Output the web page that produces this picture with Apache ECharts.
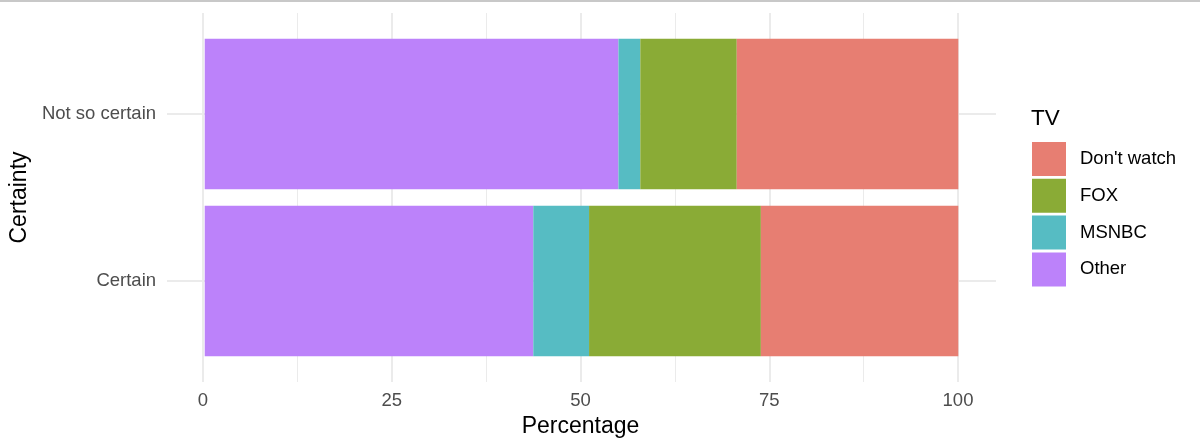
<!DOCTYPE html>
<html>
<head>
<meta charset="utf-8">
<script src="https://cdn.jsdelivr.net/npm/echarts@6/dist/echarts.min.js"></script>
<style>
html,body{margin:0;padding:0;background:#fff;}
#chart{position:absolute;left:0;top:0;width:1200px;height:448px;}
#topline{position:absolute;left:0;top:0;width:1200px;height:2px;background:#c8c8c8;z-index:5;}
</style>
</head>
<body>
<div id="chart"></div>
<div id="topline"></div>
<script>
const categories = ['Certain', 'Not so certain'];
const legendOrder = ["Don't watch", 'FOX', 'MSNBC', 'Other'];
const otherVals = [43.6, 54.9];
const msnbcVals = [7.4, 2.9];
const foxVals = [22.8, 12.8];
const dontWatchVals = [26.2, 29.4];
const xTicks = [0, 25, 50, 75, 100];

const colors = {
  "Don't watch": '#E77E72',
  'FOX': '#8AAB36',
  'MSNBC': '#56BCC3',
  'Other': '#BC82FA'
};
const FONT = 'Liberation Sans, Arial, sans-serif';

const chart = echarts.init(document.getElementById('chart'), null, {renderer: 'canvas'});

function barSeries(name, data, extra) {
  return Object.assign({
    name: name,
    type: 'bar',
    stack: 'total',
    xAxisIndex: 1,
    yAxisIndex: 1,
    barWidth: '90%',
    data: data,
    itemStyle: {color: colors[name]},
    emphasis: {disabled: true},
    z: 2
  }, extra || {});
}

const option = {
  animation: false,
  backgroundColor: '#fff',
  textStyle: {fontFamily: FONT},
  title: {
    text: 'TV',
    left: 1031,
    top: 107,
    padding: 0,
    textStyle: {fontSize: 22.5, fontWeight: 'normal', color: '#000', fontFamily: FONT}
  },
  legend: {
    data: legendOrder,
    orient: 'vertical',
    left: 1032,
    top: 142,
    padding: 0,
    itemWidth: 34,
    itemHeight: 34,
    itemGap: 2.8,
    icon: 'rect',
    selectedMode: false,
    textStyle: {fontSize: 18.5, color: '#000', fontFamily: FONT, padding: [0, 0, 0, 9]}
  },
  grid: [
    {left: 203, width: 755, top: 13, height: 369, containLabel: false},
    {left: 165, width: 831, top: 30.5, height: 334, containLabel: false}
  ],
  xAxis: [
    {
      gridIndex: 0,
      type: 'value',
      min: xTicks[0],
      max: xTicks[xTicks.length - 1],
      interval: 25,
      axisLine: {show: false},
      axisTick: {show: false},
      minorTick: {show: false, splitNumber: 2},
      axisLabel: {fontSize: 18.5, color: '#4d4d4d', margin: 9, fontFamily: FONT},
      splitLine: {show: true, lineStyle: {color: '#ebebeb', width: 2}},
      minorSplitLine: {show: true, lineStyle: {color: '#ebebeb', width: 1}},
      name: 'Percentage',
      nameLocation: 'middle',
      nameGap: 32,
      nameTextStyle: {fontSize: 23, color: '#000', fontFamily: FONT}
    },
    {
      gridIndex: 1,
      type: 'value',
      min: -5,
      max: 105,
      show: false
    }
  ],
  yAxis: [
    {
      gridIndex: 0,
      type: 'value',
      show: false,
      min: 0,
      max: 1,
      splitLine: {show: false}
    },
    {
      gridIndex: 1,
      type: 'category',
      data: categories,
      axisLine: {show: false},
      axisTick: {show: false},
      splitLine: {show: false},
      axisLabel: {fontSize: 18.5, color: '#4d4d4d', margin: 11, fontFamily: FONT},
      name: 'Certainty',
      nameLocation: 'middle',
      nameRotate: 90,
      nameGap: 134,
      nameTextStyle: {fontSize: 23, color: '#000', fontFamily: FONT}
    }
  ],
  series: [
    barSeries('Other', otherVals, {
      markLine: {
        silent: true,
        symbol: 'none',
        z: 1,
        label: {show: false},
        lineStyle: {color: '#ebebeb', width: 2, type: 'solid'},
        emphasis: {disabled: true},
        data: categories.map(c => ({yAxis: c}))
      }
    }),
    barSeries('MSNBC', msnbcVals),
    barSeries('FOX', foxVals),
    barSeries("Don't watch", dontWatchVals)
  ]
};
chart.setOption(option);
</script>
</body>
</html>
